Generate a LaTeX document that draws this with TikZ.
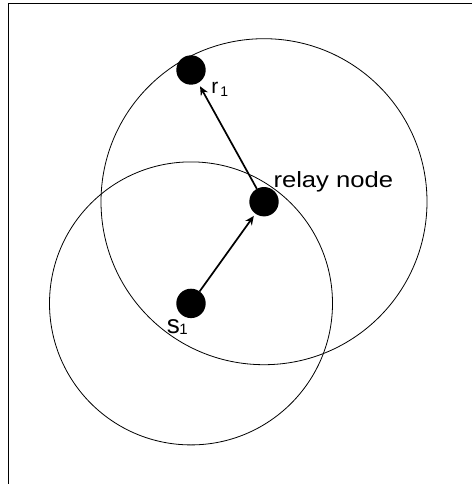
\documentclass[tikz,border=0pt]{standalone}
\usepackage{fontspec}
\setmainfont{Liberation Sans}
\usetikzlibrary{arrows.meta}
\tikzset{
  dot/.style={circle,fill=black,inner sep=0pt,outer sep=0pt,minimum size=29.4pt},
  rangecircle/.style={draw=black,line width=0.8pt},
  link/.style={draw=black,line width=1.7pt,-{Stealth[length=9pt,width=8pt]}},
  lbl/.style={inner sep=0pt,outer sep=0pt,anchor=base west}
}
\begin{document}
\begin{tikzpicture}[x=1pt,y=-1pt]
\useasboundingbox (0,0) rectangle (471,484);
\fill[white] (0,0) rectangle (471,484);
% frame (cropped at right and bottom)
\draw[line width=1pt] (8,490) -- (8,4) -- (480,4);
% nodes
\node[dot] (r1) at (191,70) {};
\node[dot] (relay) at (264,201.7) {};
\node[dot] (s1) at (191,303.4) {};
% ranges
\draw[rangecircle] (relay) circle[radius=163pt];
\draw[rangecircle] (s1) circle[radius=141.5pt];
% links
\draw[link,shorten >=2.8pt] (s1) -- (relay);
\draw[link,shorten >=3.9pt] (relay) -- (r1);
% labels
\node[lbl] (lr) at (211.3,93.3) {\fontsize{21}{21}\selectfont r\hspace{2pt}\raisebox{-3.4pt}{\fontsize{14}{14}\selectfont 1}};
\node[lbl] (lrelay) at (273.5,187.3) {\scalebox{1.22}[1.05]{\fontsize{21}{21}\selectfont relay node}};
\node[lbl] (ls) at (166.9,333.3) {\fontsize{26}{26}\selectfont s\hspace{-0.5pt}\raisebox{-0.7pt}{\fontsize{15}{15}\selectfont 1}};
\end{tikzpicture}
\end{document}
